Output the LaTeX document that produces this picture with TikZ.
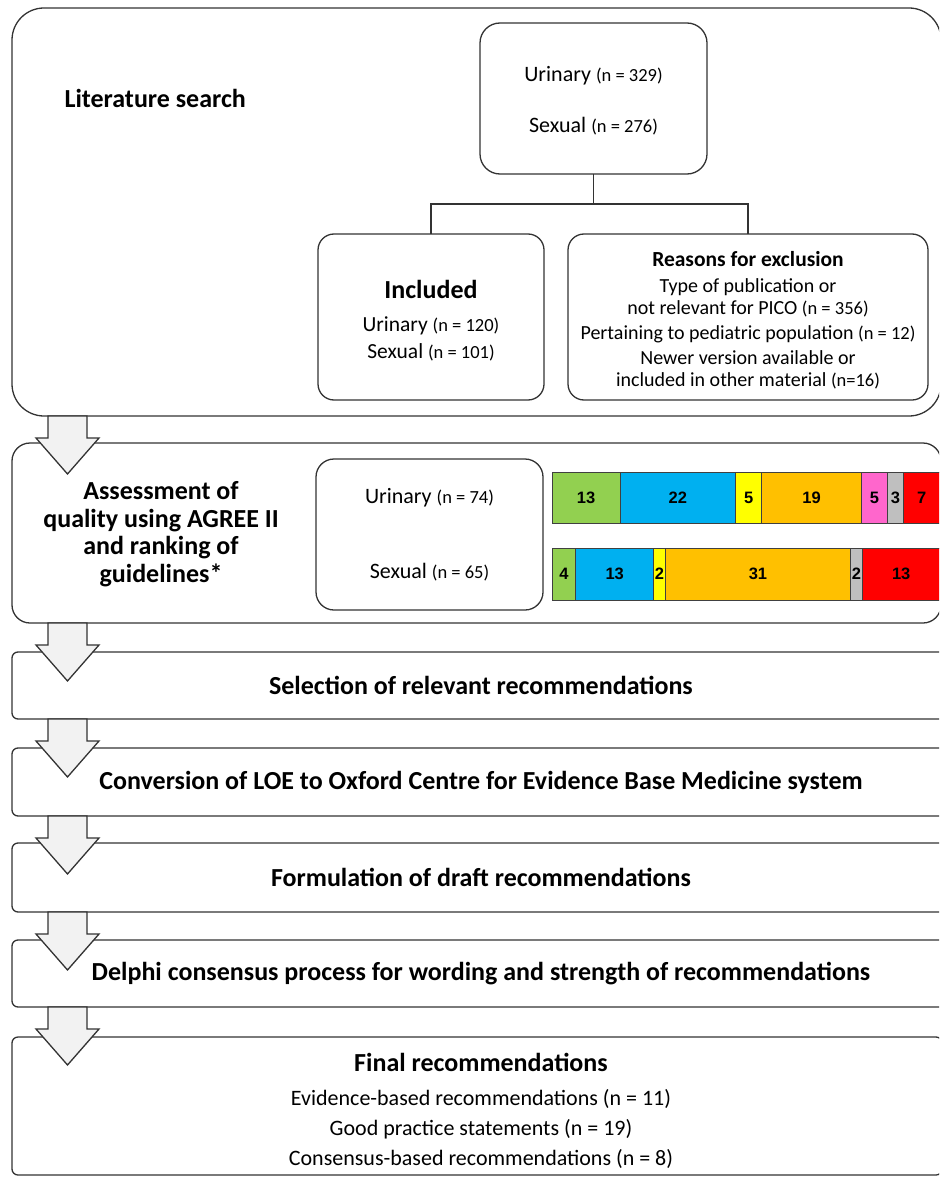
\documentclass[tikz,border=0pt]{standalone}
\usepackage{fontspec}
\setmainfont{Carlito}
\newfontfamily\barfont{Liberation Sans}
\usetikzlibrary{positioning}

\definecolor{bargreen}{HTML}{92D050}
\definecolor{barblue}{HTML}{00B0F0}
\definecolor{baryellow}{HTML}{FFFF00}
\definecolor{barorange}{HTML}{FFC000}
\definecolor{barpink}{HTML}{FF66CC}
\definecolor{bargray}{HTML}{BFBFBF}
\definecolor{barred}{HTML}{FF0000}
\definecolor{arrowgray}{HTML}{F2F2F2}

\newcommand\ncount[1]{{\fontsize{18.5}{18}\selectfont(#1)}}

\tikzset{
  box/.style={draw=black!80, line width=1.3pt, rounded corners=#1, inner sep=0pt,
    outer sep=0pt, anchor=north west, align=center},
  box/.default=6,
  steptext/.style={font=\bfseries\fontsize{26}{28}\selectfont},
  conn/.style={draw=black!80, line width=1.3pt},
  seg/.style={draw=black!75, line width=0.8pt},
  barnum/.style={font=\barfont\bfseries\fontsize{16.5}{18}\selectfont, inner sep=0pt},
  blockarrow/.style={draw=black!80, line width=1.3pt, fill=arrowgray, line join=miter},
}

\begin{document}
\begin{tikzpicture}[x=1pt, y=-1pt]
    \useasboundingbox (0,0) rectangle (939,1177);
    \clip (0,0) rectangle (939,1177);

    % literature search
    \node[box=32, minimum width=929, minimum height=408] (lit) at (12,8) {};
    \node[steptext, anchor=west] (littitle) at (61,98) {Literature search};
    \node[box=20, minimum width=227, minimum height=151] (search) at (480,23) {};
    \node[align=center, font=\fontsize{22}{51}\selectfont] (searchtext) at ([yshift=-2pt]search.center)
        {Urinary \ncount{n = 329}\\Sexual \ncount{n = 276}};
    \node[box=16, minimum width=226, minimum height=166] (incl) at (318,234) {};
    \node[align=center, font=\fontsize{21.5}{27}\selectfont] (incltext) at ([yshift=-4pt]incl.center)
        {{\bfseries\fontsize{26}{28}\selectfont Included}\\[6pt]
        Urinary \ncount{n = 120}\\Sexual \ncount{n = 101}};
    \node[box=16, minimum width=360, minimum height=166] (excl) at (568,234) {};
    \node[align=center, font=\fontsize{20}{22}\selectfont] (excltext) at ([yshift=-3pt]excl.center)
        {{\bfseries\fontsize{21.5}{22}\selectfont Reasons for exclusion}\\[4pt]
        Type of publication or\\not relevant for PICO \ncount{n = 356}\\[3pt]
        Pertaining to pediatric population \ncount{n = 12}\\[3pt]
        Newer version available or\\included in other material \ncount{n=16}};
    \draw[conn] (search.south) -- ++(0,30) coordinate (split) -| (incl.north);
    \draw[conn] (split) -| (excl.north);

    % quality assessment
    \node[box=18, minimum width=929, minimum height=180] (qual) at (12,443) {};
    \node[align=center, font=\bfseries\fontsize{26}{27.5}\selectfont] (qualtitle) at (161,534)
        {Assessment of\\quality using AGREE II\\and ranking of\\guidelines*};
    \node[box=18, font=\fontsize{22}{75}\selectfont, minimum width=227, minimum height=151]
        (qualn) at (316,459) {Urinary \ncount{n = 74}\\Sexual \ncount{n = 65}};

    \foreach \a/\b/\col/\v [count=\i] in {0/13/bargreen/13, 13/35/barblue/22,
        35/40/baryellow/5, 40/59/barorange/19, 59/64/barpink/5, 64/67/bargray/3, 67/74/barred/7} {
        \draw[seg, fill=\col] ({552+\a*(388/74)},472) rectangle ({552+\b*(388/74)},523);
        \node[barnum] (u\i) at ({552+(\a+\b)*(194/74)},497.5) {\v};
    }
    \foreach \a/\b/\col/\v [count=\i] in {0/4/bargreen/4, 4/17/barblue/13,
        17/19/baryellow/2, 19/50/barorange/31, 50/52/bargray/2, 52/65/barred/13} {
        \draw[seg, fill=\col] ({552+\a*(388/65)},548) rectangle ({552+\b*(388/65)},600);
        \node[barnum] (s\i) at ({552+(\a+\b)*(194/65)},574) {\v};
    }

    % remaining steps
    \node[box, steptext, minimum width=938, minimum height=67] (sel) at (12,652)
        {Selection of relevant recommendations};
    \node[box, steptext, minimum width=938, minimum height=68] (conv) at (12,748)
        {Conversion of LOE to Oxford Centre for Evidence Base Medicine system};
    \node[box, steptext, minimum width=938, minimum height=69] (draft) at (12,843)
        {Formulation of draft recommendations};
    \node[box, steptext, minimum width=938, minimum height=67] (delphi) at (12,940)
        {Delphi consensus process for wording and strength of recommendations};
    \node[box, minimum width=930, minimum height=138] (final) at (12,1037) {};
    \node[align=center, font=\fontsize{22}{30}\selectfont] (finaltext) at ([xshift=4pt,yshift=-5pt]final.center)
        {{\bfseries\fontsize{26}{28}\selectfont Final recommendations}\\[4pt]
        Evidence-based recommendations (n = 11)\\Good practice statements (n = 19)\\
        Consensus-based recommendations (n = 8)};

    % block arrows
    \foreach \a in {lit,qual,sel,conv,draft,delphi}
        \draw[blockarrow, shift={(\a.south west)}] (36,0) -- (75,0) -- (75,22)
            -- (87,22) -- (55.5,58) -- (24,22) -- (36,22) -- cycle;
\end{tikzpicture}
\end{document}
